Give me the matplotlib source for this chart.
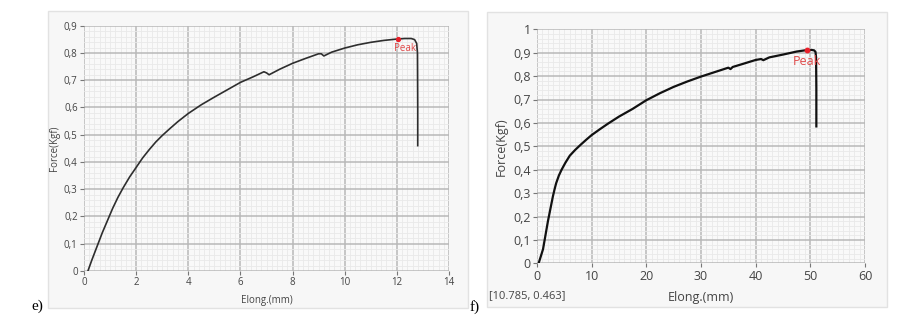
import matplotlib
matplotlib.use("Agg")
import matplotlib.pyplot as plt
from matplotlib.patches import Rectangle
from matplotlib.ticker import MultipleLocator, FuncFormatter

# ---- data ----
e_elong = [0.15, 0.3, 0.5, 0.7, 0.9, 1.1, 1.3, 1.5, 1.75, 2.0, 2.25, 2.5, 2.75, 3.0,
           3.3, 3.6, 4.0, 4.5, 5.0, 5.5, 6.0, 6.5, 6.9, 7.0, 7.1, 7.5, 8.0, 8.5, 9.0,
           9.1, 9.2, 9.5, 10.0, 10.5, 11.0, 11.5, 12.0, 12.3, 12.55, 12.68, 12.76,
           12.79, 12.8, 12.8]
e_force = [0.0, 0.04, 0.09, 0.14, 0.185, 0.23, 0.27, 0.305, 0.345, 0.38, 0.415, 0.445,
           0.473, 0.497, 0.523, 0.548, 0.578, 0.61, 0.638, 0.665, 0.692, 0.713, 0.731,
           0.727, 0.72, 0.74, 0.762, 0.78, 0.797, 0.797, 0.789, 0.803, 0.818, 0.83,
           0.839, 0.846, 0.851, 0.853, 0.853, 0.849, 0.835, 0.8, 0.6, 0.46]
e_peak = (12.05, 0.853)

f_elong = [0.3, 0.7, 1.1, 1.4, 1.7, 2.0, 2.3, 2.6, 2.9, 3.2, 3.5, 4.0, 4.5, 5.2, 6.0,
           7.0, 8.0, 9.0, 10.0, 11.5, 13.0, 15.0, 17.5, 20.0, 22.5, 25.0, 27.5, 30.0,
           32.5, 35.0, 35.4, 35.8, 37.5, 40.0, 41.0, 41.4, 42.5, 45.0, 47.5, 49.3,
           50.2, 50.7, 50.95, 51.05, 51.1, 51.1]
f_force = [0.0, 0.03, 0.06, 0.1, 0.14, 0.18, 0.215, 0.25, 0.285, 0.315, 0.342, 0.375,
           0.4, 0.43, 0.46, 0.485, 0.507, 0.528, 0.548, 0.573, 0.597, 0.627, 0.66,
           0.697, 0.727, 0.754, 0.777, 0.798, 0.817, 0.836, 0.83, 0.839, 0.851, 0.869,
           0.873, 0.868, 0.88, 0.892, 0.905, 0.911, 0.912, 0.91, 0.903, 0.88, 0.75, 0.585]
f_peak = (49.3, 0.912)

W, H = 908, 332
fig = plt.figure(figsize=(W / 100, H / 100), dpi=100)
fig.patch.set_facecolor("white")


def fbox(x0, y0, x1, y1):
    # pixel box (top-left origin) -> figure fraction [left, bottom, width, height]
    return [x0 / W, 1 - y1 / H, (x1 - x0) / W, (y1 - y0) / H]


def panel(x0, y0, x1, y1):
    l, b, w, h = fbox(x0, y0, x1, y1)
    fig.patches.append(Rectangle((l, b), w, h, transform=fig.transFigure,
                                 facecolor="#f7f7f7", edgecolor="#e2e2e2",
                                 linewidth=1.0, zorder=-10))


def comma(v, pos):
    s = f"{v:.1f}".replace(".", ",")
    if s.endswith(",0"):
        s = s[:-2]
    return s


def style(ax, xmaj, xmin_, ymaj, ymin_, fs):
    ax.set_facecolor("#f9f9f9")
    for s in ax.spines.values():
        s.set_visible(False)
    ax.xaxis.set_major_locator(MultipleLocator(xmaj))
    ax.xaxis.set_minor_locator(MultipleLocator(xmin_))
    ax.yaxis.set_major_locator(MultipleLocator(ymaj))
    ax.yaxis.set_minor_locator(MultipleLocator(ymin_))
    ax.yaxis.set_major_formatter(FuncFormatter(comma))
    ax.grid(True, which="major", color="#b8b8b8", linewidth=1.1, zorder=1)
    ax.grid(True, which="minor", color="#e9e9e9", linewidth=0.6, zorder=0.5)
    ax.set_axisbelow(True)
    ax.tick_params(which="major", length=3, width=0.8, color="#777777",
                   labelsize=fs, labelcolor="#444444", pad=1.5)
    ax.tick_params(which="minor", length=0)
    for lab in ax.get_xticklabels() + ax.get_yticklabels():
        lab.set_fontfamily("Open Sans")


# ---------- panel e ----------
panel(48, 11, 468, 308)
ax1 = fig.add_axes(fbox(84, 25.7, 449, 271))
ax1.set_zorder(2)
ax1.plot(e_elong, e_force, color="#2e2e2e", linewidth=1.2, zorder=3)
ax1.plot([e_peak[0]], [e_peak[1]], "o", color="#e8202a", markersize=2.8, zorder=4)
ax1.text(e_peak[0] + 0.25, e_peak[1] - 0.037, "Peak", color="#e04848", fontsize=7,
         ha="center", va="center", family="Open Sans", zorder=4)
ax1.set_xlim(0, 14)
ax1.set_ylim(0, 0.9)
style(ax1, 2, 0.2, 0.1, 0.02, 7)
ax1.set_xlabel("Elong.(mm)", fontsize=7, family="Open Sans", color="#444444", labelpad=5)
ax1.set_ylabel("Force(Kgf)", fontsize=7, family="Open Sans", color="#444444", labelpad=3)

# ---------- panel f ----------
panel(487, 12, 887, 307)
ax2 = fig.add_axes(fbox(537, 29.3, 865, 263.3))
ax2.set_zorder(2)
ax2.plot(f_elong, f_force, color="#111111", linewidth=1.6, zorder=3)
ax2.plot([f_peak[0]], [f_peak[1]], "o", color="#e8202a", markersize=3.2, zorder=4)
ax2.text(f_peak[0], f_peak[1] - 0.05, "Peak", color="#e04848", fontsize=9,
         ha="center", va="center", family="Open Sans", zorder=4)
ax2.set_xlim(0, 60)
ax2.set_ylim(0, 1)
style(ax2, 10, 1, 0.1, 0.02, 9)
ax2.set_xlabel("Elong.(mm)", fontsize=9, family="Open Sans", color="#444444", labelpad=6)
ax2.set_ylabel("Force(Kgf)", fontsize=9, family="Open Sans", color="#444444", labelpad=4)

fig.text(489 / W, 1 - 296 / H, "[10.785, 0.463]", fontsize=8, family="Open Sans",
         color="#444444", ha="left", va="center")

fig.text(31 / W, 1 - 306 / H, "e)", fontsize=11, family="Liberation Serif",
         color="black", ha="left", va="center")
fig.text(470 / W, 1 - 307 / H, "f)", fontsize=11, family="Liberation Serif",
         color="black", ha="left", va="center")

fig.savefig("out.png", dpi=100)
